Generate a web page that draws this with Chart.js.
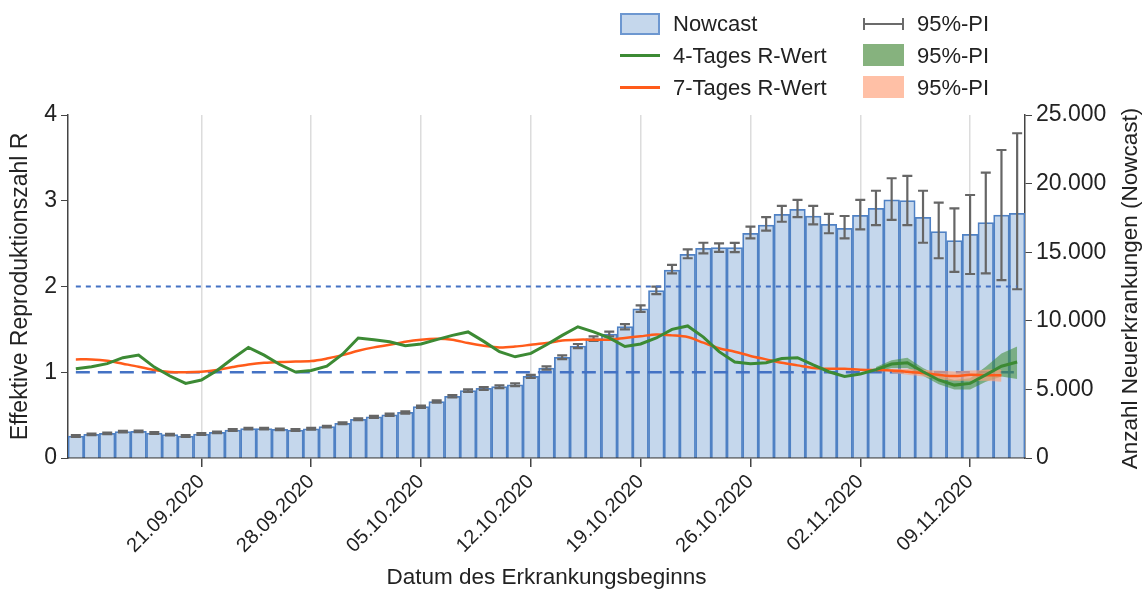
<!DOCTYPE html>
<html lang="de">
<head>
<meta charset="utf-8">
<title>Nowcast R-Wert</title>
<script src="https://cdn.jsdelivr.net/npm/chart.js@4/dist/chart.umd.min.js"></script>
<style>
    html, body { margin: 0; padding: 0; background: #fff; }
    .chart-container {
        position: relative;
        width: 1146px;
        height: 591px;
        font-family: 'Liberation Sans', Arial, sans-serif;
        color: #222;
    }
    .lg { position: absolute; }
    .lg-text { position: absolute; font-size: 22px; line-height: 24px; white-space: nowrap; }
</style>
</head>
<body>
<div class="chart-container">
    <canvas id="rChart" width="1146" height="591"></canvas>

    <div class="lg" style="left:620px; top:13px; width:36px; height:18px; background:#c5d7ec; border:2px solid #6d97d0;"></div>
    <div class="lg-text" style="left:673px; top:12px;">Nowcast</div>
    <div class="lg" style="left:620px; top:54px; width:40px; height:3px; background:#3c8a34;"></div>
    <div class="lg-text" style="left:673px; top:44px;">4-Tages R-Wert</div>
    <div class="lg" style="left:620px; top:86px; width:40px; height:3px; background:#ff5b1a;"></div>
    <div class="lg-text" style="left:673px; top:76px;">7-Tages R-Wert</div>

    <div class="lg" style="left:864px; top:23px; width:40px; height:2px; background:#6b6b6b;"></div>
    <div class="lg" style="left:863px; top:18px; width:2px; height:12px; background:#6b6b6b;"></div>
    <div class="lg" style="left:902px; top:18px; width:2px; height:12px; background:#6b6b6b;"></div>
    <div class="lg-text" style="left:917px; top:12px;">95%-PI</div>
    <div class="lg" style="left:863px; top:44px; width:41px; height:22px; background:#86b27e;"></div>
    <div class="lg-text" style="left:917px; top:44px;">95%-PI</div>
    <div class="lg" style="left:863px; top:76px; width:41px; height:22px; background:#ffc0a6;"></div>
    <div class="lg-text" style="left:917px; top:76px;">95%-PI</div>
</div>
<script>
// Erkrankungsbeginn 13.09.2020 - 12.11.2020
const days = [];
for (let d = new Date(2020, 8, 13); d <= new Date(2020, 10, 12); d.setDate(d.getDate() + 1)) {
    days.push(String(d.getDate()).padStart(2, '0') + '.' + String(d.getMonth() + 1).padStart(2, '0') + '.2020');
}

const tickDates = ['21.09.2020', '28.09.2020', '05.10.2020', '12.10.2020', '19.10.2020',
    '26.10.2020', '02.11.2020', '09.11.2020'];

// Nowcast Neuerkrankungen + 95%-PI
const nowcast = [1600, 1725, 1800, 1920, 1945, 1820, 1700, 1600, 1750, 1870,
    2040, 2140, 2140, 2090, 2040, 2130, 2290, 2530, 2820, 3000,
    3150, 3320, 3740, 4120, 4500, 4910, 5070, 5200, 5340, 5950,
    6560, 7340, 8160, 8700, 9040, 9570, 10880, 12200, 13700, 14850,
    15290, 15330, 15330, 16380, 16980, 17760, 18130, 17640, 17030, 16740,
    17690, 18200, 18810, 18760, 17550, 16500, 15840, 16300, 17150, 17710, 17840];
const nowcastLow = [1540, 1665, 1740, 1860, 1885, 1760, 1640, 1540, 1690, 1810,
    1980, 2080, 2080, 2030, 1980, 2070, 2230, 2460, 2750, 2930,
    3070, 3240, 3660, 4040, 4410, 4820, 4970, 5100, 5240, 5840,
    6440, 7200, 8010, 8540, 8870, 9380, 10650, 11950, 13460, 14560,
    14920, 15020, 15000, 16010, 16570, 17220, 17550, 17030, 16380, 16010,
    16670, 16980, 17350, 16980, 15690, 14560, 13560, 13410, 13460, 12970, 12300];
const nowcastHigh = [1660, 1785, 1860, 1980, 2005, 1880, 1760, 1660, 1810, 1930,
    2100, 2200, 2200, 2150, 2100, 2190, 2350, 2600, 2890, 3070,
    3230, 3400, 3820, 4200, 4590, 5000, 5170, 5300, 5440, 6060,
    6680, 7480, 8310, 8860, 9210, 9760, 11130, 12490, 14070, 15210,
    15690, 15650, 15680, 16860, 17550, 18370, 18810, 18370, 17790, 17640,
    18810, 19480, 20390, 20560, 19480, 18610, 18200, 19170, 20800, 22450, 23670];

// 4-Tages R-Wert
const r4 = [1.04, 1.065, 1.10, 1.17, 1.20, 1.06, 0.956, 0.87, 0.91, 1.02,
    1.16, 1.29, 1.20, 1.09, 1.003, 1.02, 1.07, 1.21, 1.40, 1.38,
    1.356, 1.31, 1.33, 1.38, 1.43, 1.47, 1.36, 1.24, 1.18, 1.22,
    1.32, 1.43, 1.53, 1.47, 1.40, 1.30, 1.33, 1.40, 1.50, 1.54,
    1.41, 1.24, 1.12, 1.10, 1.11, 1.16, 1.17, 1.085, 1.006, 0.95,
    0.98, 1.03, 1.096, 1.11, 1.006, 0.91, 0.85, 0.87, 0.97, 1.07, 1.12];
const r4BandStart = 51;
const r4Low = [1.00, 1.05, 1.05, 0.96, 0.86, 0.80, 0.80, 0.89, 0.95, 0.92];
const r4High = [1.06, 1.14, 1.17, 1.05, 0.96, 0.91, 0.93, 1.065, 1.22, 1.30];

// 7-Tages R-Wert
const r7 = [1.15, 1.15, 1.135, 1.10, 1.065, 1.026, 1.003, 1.0, 1.006, 1.026,
    1.06, 1.09, 1.11, 1.12, 1.125, 1.13, 1.16, 1.20, 1.25, 1.29,
    1.32, 1.356, 1.38, 1.39, 1.38, 1.34, 1.31, 1.29, 1.30, 1.32,
    1.34, 1.37, 1.38, 1.38, 1.38, 1.40, 1.42, 1.44, 1.43, 1.41,
    1.345, 1.28, 1.24, 1.19, 1.15, 1.11, 1.08, 1.05, 1.04, 1.04,
    1.03, 1.026, 1.02, 1.006, 0.99, 0.97, 0.956, 0.97, 0.965, 0.965];
const r7BandStart = 52;
const r7Low = [0.99, 0.97, 0.95, 0.92, 0.90, 0.90, 0.90, 0.89];
const r7High = [1.04, 1.04, 1.03, 1.02, 1.01, 1.02, 1.03, 1.03];

// Referenzlinien R = 1 und R = 2
const refLevels = [1, 2];

const band = (start, vals) => vals.map((v, i) => ({ x: days[start + i], y: v }));
const refLine = (level) => [{ x: days[0], y: level }, { x: days[days.length - 1], y: level }];
const fmt = (v) => String(v).replace(/\B(?=(\d{3})+(?!\d))/g, '.');

const FONT = "'Liberation Sans', Arial, sans-serif";
const AXIS = '#444';

const errorBars = {
    id: 'errorBars',
    afterDatasetDraw(chart, args) {
        if (args.index !== 0) return;
        const ctx = chart.ctx;
        const y1 = chart.scales.y1;
        ctx.save();
        ctx.strokeStyle = '#666';
        ctx.lineWidth = 2.2;
        args.meta.data.forEach((bar, i) => {
            const top = y1.getPixelForValue(nowcastHigh[i]);
            const bot = y1.getPixelForValue(nowcastLow[i]);
            ctx.beginPath();
            ctx.moveTo(bar.x, top); ctx.lineTo(bar.x, bot);
            ctx.moveTo(bar.x - 5, top); ctx.lineTo(bar.x + 5, top);
            ctx.moveTo(bar.x - 5, bot); ctx.lineTo(bar.x + 5, bot);
            ctx.stroke();
        });
        ctx.restore();
    }
};

// right axis title reads bottom-to-top like the left one
const rightTitle = {
    id: 'rightTitle',
    afterDraw(chart) {
        const ctx = chart.ctx;
        const a = chart.chartArea;
        ctx.save();
        ctx.translate(1131, (a.top + a.bottom) / 2 + 2);
        ctx.rotate(-Math.PI / 2);
        ctx.font = '22.5px ' + FONT;
        ctx.fillStyle = '#222';
        ctx.textAlign = 'center';
        ctx.textBaseline = 'middle';
        ctx.fillText('Anzahl Neuerkrankungen (Nowcast)', 0, 0);
        ctx.restore();
    }
};

document.addEventListener('DOMContentLoaded', () => {
    const ctx = document.getElementById('rChart').getContext('2d');
    new Chart(ctx, {
        data: {
            labels: days,
            datasets: [
                {
                    type: 'bar', label: 'Nowcast', data: nowcast, yAxisID: 'y1', order: 10,
                    backgroundColor: '#c5d7ec', borderColor: '#4f81c4', borderWidth: 1.75,
                    barPercentage: 1, categoryPercentage: 1
                },
                {
                    type: 'line', label: 'R=1', data: refLine(refLevels[0]), yAxisID: 'y', order: 4,
                    borderColor: '#4472c4', borderWidth: 2.5, borderDash: [14, 8], pointRadius: 0, fill: false
                },
                {
                    type: 'line', label: 'R=2', data: refLine(refLevels[1]), yAxisID: 'y', order: 4,
                    borderColor: '#4472c4', borderWidth: 2, borderDash: [5, 5], pointRadius: 0, fill: false
                },
                {
                    type: 'line', label: 'r7low', data: band(r7BandStart, r7Low), yAxisID: 'y', order: 3,
                    borderWidth: 0, pointRadius: 0, fill: false, tension: 0.3
                },
                {
                    type: 'line', label: 'r7high', data: band(r7BandStart, r7High), yAxisID: 'y', order: 3,
                    borderWidth: 0, pointRadius: 0, fill: '-1', backgroundColor: 'rgba(255,160,120,0.65)', tension: 0.3
                },
                {
                    type: 'line', label: 'r4low', data: band(r4BandStart, r4Low), yAxisID: 'y', order: 3,
                    borderWidth: 0, pointRadius: 0, fill: false
                },
                {
                    type: 'line', label: 'r4high', data: band(r4BandStart, r4High), yAxisID: 'y', order: 3,
                    borderWidth: 0, pointRadius: 0, fill: '-1', backgroundColor: 'rgba(60,140,50,0.55)'
                },
                {
                    type: 'line', label: '7-Tages R-Wert', data: r7, yAxisID: 'y', order: 2,
                    borderColor: '#ff5b1a', borderWidth: 2.5, pointRadius: 0, fill: false, tension: 0.3
                },
                {
                    type: 'line', label: '4-Tages R-Wert', data: r4, yAxisID: 'y', order: 1,
                    borderColor: '#3c8a34', borderWidth: 3, pointRadius: 0, fill: false, tension: 0
                }
            ]
        },
        options: {
            responsive: false,
            animation: false,
            layout: { padding: { top: 115, left: 0, right: 0, bottom: 0 } },
            plugins: { legend: { display: false }, tooltip: { enabled: false } },
            scales: {
                x: {
                    offset: true,
                    afterFit: (s) => { s.height = 133; },
                    border: { color: AXIS, width: 1.5 },
                    grid: {
                        offset: false,
                        color: (c) => tickDates.includes(days[c.index]) ? '#dcdcdc' : 'rgba(0,0,0,0)',
                        tickColor: (c) => tickDates.includes(days[c.index]) ? AXIS : 'rgba(0,0,0,0)',
                        lineWidth: 1.5,
                        tickLength: 9
                    },
                    ticks: {
                        autoSkip: false,
                        minRotation: 45,
                        maxRotation: 45,
                        color: '#222',
                        font: { family: FONT, size: 20 },
                        callback: function (value) {
                            const l = this.getLabelForValue(value);
                            return tickDates.includes(l) ? l : '';
                        }
                    },
                    title: {
                        display: true,
                        text: 'Datum des Erkrankungsbeginns',
                        color: '#222',
                        font: { family: FONT, size: 22.5 },
                        padding: { top: 0, bottom: 0 }
                    }
                },
                y: {
                    position: 'left',
                    min: 0, max: 4,
                    afterFit: (s) => { s.width = 68; },
                    border: { color: AXIS, width: 1.5 },
                    grid: { drawOnChartArea: false, color: AXIS, tickLength: 7 },
                    ticks: { stepSize: 1, color: '#222', padding: 4, font: { family: FONT, size: 23 } },
                    title: {
                        display: true,
                        text: 'Effektive Reproduktionszahl R',
                        color: '#222',
                        font: { family: FONT, size: 23 },
                        padding: { top: 7, bottom: 0 }
                    }
                },
                y1: {
                    position: 'right',
                    min: 0, max: 25000,
                    afterFit: (s) => { s.width = 121; },
                    border: { color: AXIS, width: 1.5 },
                    grid: { drawOnChartArea: false, color: AXIS, tickLength: 7 },
                    ticks: {
                        stepSize: 5000, color: '#222', padding: 4,
                        font: { family: FONT, size: 23 },
                        callback: (v) => fmt(v)
                    }
                }
            }
        },
        plugins: [errorBars, rightTitle]
    });
});
</script>
</body>
</html>
